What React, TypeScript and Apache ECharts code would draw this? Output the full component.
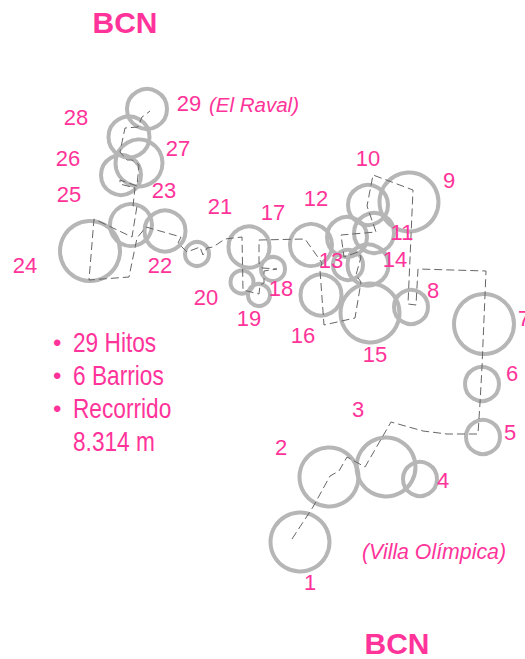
import React, { useEffect, useRef } from "react";
import * as echarts from "echarts";

const PINK = "#ff3399";
const GREY = "#b6b6b6";
const FONT = "Liberation Sans";

const circleX = [147, 129, 139, 121, 131, 90, 165, 197, 242, 249, 259, 273, 311, 348, 347, 374, 368, 409, 368, 321, 370, 411, 484, 482, 483, 420, 386, 329, 300];
const circleY = [109, 137, 163, 175, 225, 251, 231, 254, 282, 247, 295, 269, 245, 265, 237, 233, 205, 202, 265, 295, 313, 307, 324, 384, 437, 479, 467, 477, 542];
const circleDiameter = [40, 41, 47, 40, 42, 60, 41, 24, 23, 41, 22, 24, 42, 30, 40, 40, 40, 59, 41, 41, 59, 34, 60, 34, 34, 34, 59, 59, 59];

const routeX = [292, 313, 330, 339, 347, 365, 391, 423, 447, 478, 480, 482, 486, 418, 416, 408, 413, 373, 367, 376, 341, 344, 358, 361, 356, 361, 355, 324, 320, 322, 305, 259, 259, 262, 277, 264, 264, 260, 259, 243, 242, 225, 213, 207, 203, 200, 187, 178, 181, 146, 137, 129, 89, 94, 132, 137, 133, 135, 120, 120, 137, 139, 132, 127, 120, 125, 138, 142, 145, 150];
const routeY = [539, 507, 476, 471, 457, 467, 422, 431, 434, 434, 403, 367, 271, 269, 305, 304, 190, 175, 206, 232, 235, 257, 252, 257, 275, 282, 318, 325, 270, 263, 239, 240, 263, 268, 269, 271, 283, 285, 294, 290, 237, 239, 247, 248, 255, 247, 252, 243, 237, 227, 238, 277, 280, 219, 237, 206, 206, 188, 184, 180, 186, 165, 160, 160, 152, 128, 127, 117, 115, 111];

const numberLabels = ["1", "2", "3", "4", "5", "6", "7", "8", "9", "10", "11", "12", "13", "14", "15", "16", "17", "18", "19", "20", "21", "22", "23", "24", "25", "26", "27", "28", "29"];
const numberX = [310, 281, 358, 443, 510, 512, 524, 433, 449, 368, 402, 316, 331, 395, 375, 303, 273, 281, 249, 206, 220, 160, 164, 25, 69, 68, 178, 76, 189];
const numberY = [582, 447, 409, 480, 432, 373, 318, 290, 180, 158, 232, 198, 260, 259, 354, 335, 212, 288, 318, 297, 206, 265, 190, 265, 194, 158, 148, 117, 103];

const listBullets = ["•", "•", "•"];
const listLines = ["29 Hitos", "6 Barrios", "Recorrido", "8.314 m"];

const App = () => {
  const ref = useRef<HTMLDivElement>(null);
  useEffect(() => {
    document.body.style.margin = "0";
    const chart = echarts.init(ref.current!, null, { renderer: "svg" });
    const text = (content: string, x: number, y: number, size: number, extra: any = {}, scaleX = 1) => ({
      type: "text",
      x,
      y,
      scaleX,
      silent: true,
      style: { text: content, fill: PINK, fontSize: size, fontFamily: FONT, textVerticalAlign: "middle", ...extra },
    });
    chart.setOption({
      animation: false,
      backgroundColor: "#fff",
      grid: { left: 0, right: 0, top: 0, bottom: 0 },
      xAxis: { type: "value", min: 0, max: 525, show: false },
      yAxis: { type: "value", min: 0, max: 659, inverse: true, show: false },
      series: [
        {
          type: "scatter",
          data: circleX.map((x, i) => [x, circleY[i], circleDiameter[i]]),
          symbol: "circle",
          symbolSize: (v: number[]) => v[2],
          itemStyle: { color: "transparent", borderColor: GREY, borderWidth: 4, opacity: 1 },
          z: 2,
        },
        {
          type: "line",
          data: routeX.map((x, i) => [x, routeY[i]]),
          symbol: "none",
          lineStyle: { color: "#666666", width: 1, type: [8, 4] },
          z: 3,
        },
        {
          type: "scatter",
          data: numberLabels.map((n, i) => [numberX[i], numberY[i], n]),
          symbolSize: 0,
          itemStyle: { color: "transparent", opacity: 1 },
          label: {
            show: true,
            position: "inside",
            formatter: (p: any) => p.value[2],
            color: PINK,
            fontSize: 22,
            fontFamily: FONT,
          },
          z: 4,
        },
      ],
      graphic: [
        text("BCN", 125, 22, 30, { fontWeight: "bold", textAlign: "center" }),
        text("BCN", 397, 643, 30, { fontWeight: "bold", textAlign: "center" }),
        text("(El Raval)", 209, 104, 20.5, { fontStyle: "italic" }),
        text("(Villa Olímpica)", 362, 552, 21.3, { fontStyle: "italic" }),
        ...listBullets.map((b, i) => text(b, 53, 342 + i * 33, 24)),
        ...listLines.map((l, i) => text(l, 73, 342 + i * 33, 27, {}, 0.84)),
      ],
    });
    return () => chart.dispose();
  }, []);
  return <div ref={ref} style={{ width: 525, height: 659 }} />;
};

export default App;
